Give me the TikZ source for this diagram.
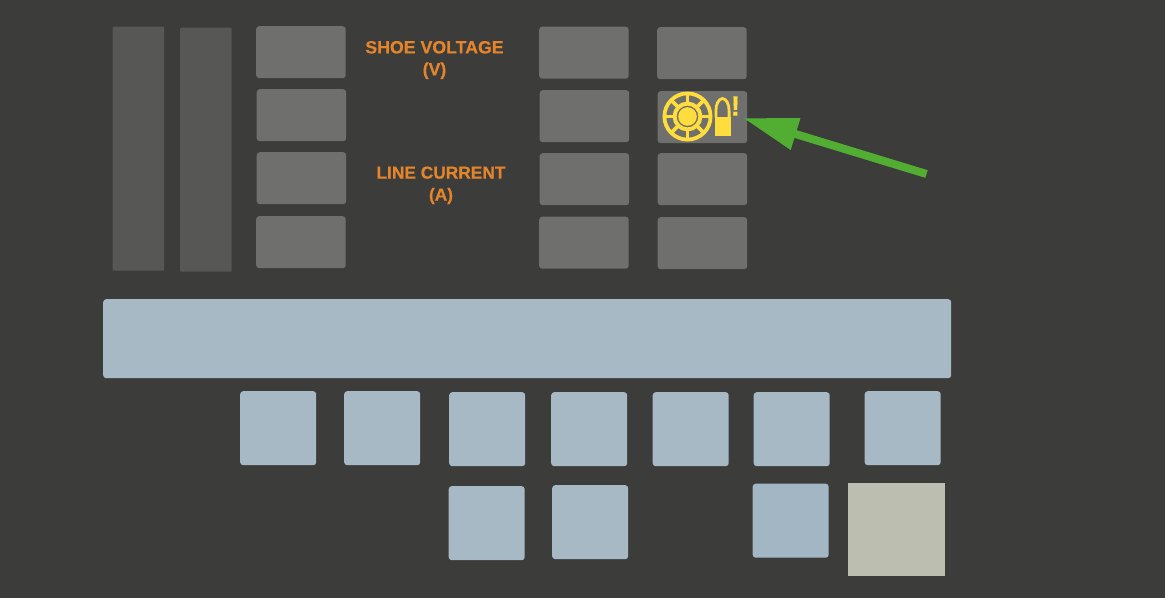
\documentclass[tikz,border=0pt]{standalone}
\usepackage{fontspec}
\setmainfont[BoldFeatures={FakeBold=0.35}]{Liberation Sans}
\usetikzlibrary{arrows.meta}
\definecolor{bgc}{HTML}{3C3C3B}
\definecolor{gbox}{HTML}{6F6F6D}
\definecolor{tallc}{HTML}{575756}
\definecolor{bluec}{HTML}{A6B9C5}
\definecolor{bluedk}{HTML}{A3B6C4}
\definecolor{beigec}{HTML}{BCBFAF}
\definecolor{orangec}{HTML}{E5852B}
\definecolor{yel}{HTML}{FFDD3C}
\definecolor{greenc}{HTML}{52AE32}
\tikzset{
  panel/.style={draw=none,inner sep=0pt,rounded corners=3bp,anchor=north west},
  tallbox/.style={panel,fill=tallc,minimum width=51.5bp,minimum height=244bp,rounded corners=1bp},
  graybox/.style={panel,fill=gbox,minimum width=89.5bp,minimum height=52bp},
  bluesq/.style={panel,fill=bluec,minimum width=76bp,minimum height=74bp},
  lab/.style={text=orangec,font=\bfseries\fontsize{17.8}{22}\selectfont,align=center,inner sep=0pt},
  wheel/.style={draw=yel,line width=3.8bp},
  pointer/.style={draw=greenc,line width=8bp,-{Triangle[length=55bp,width=31bp,fill=greenc]}}
}
\begin{document}
\begin{tikzpicture}[x=1bp,y=-1bp]
\useasboundingbox[fill=bgc] (0,0) rectangle (1165,598);
\node[tallbox] (t1) at (112.5,26.5) {};
\node[tallbox] (t2) at (180,27.5) {};
\node[graybox] (a1) at (256,26) {};
\node[graybox] (a2) at (256.5,89) {};
\node[graybox] (a3) at (256.5,152) {};
\node[graybox] (a4) at (256,216) {};
\node[graybox] (b1) at (539,26.5) {};
\node[graybox] (b2) at (539.5,90) {};
\node[graybox] (b3) at (539.5,153) {};
\node[graybox] (b4) at (539,216.5) {};
\node[graybox] (c1) at (657,27) {};
\node[graybox] (c2) at (657.5,91) {};
\node[graybox] (c3) at (657.5,153) {};
\node[graybox] (c4) at (657.5,217) {};
\node[lab] (v) at (434.5,60) {SHOE VOLTAGE\\(V)};
\node[lab,font=\bfseries\fontsize{17.4}{22}\selectfont] (i) at (441,185.3) {LINE CURRENT\\(A)};
\node[panel,fill=bluec,minimum width=848bp,minimum height=79bp] (bar) at (103,299) {};
\node[bluesq] (s1) at (240,391) {};
\node[bluesq] (s2) at (344,391) {};
\node[bluesq] (s3) at (449,392) {};
\node[bluesq] (s4) at (551,392) {};
\node[bluesq] (s5) at (652.5,392) {};
\node[bluesq] (s6) at (753.5,392) {};
\node[bluesq] (s7) at (864.5,391) {};
\node[bluesq] (s8) at (448.5,486) {};
\node[bluesq] (s9) at (552,485) {};
\node[bluesq,fill=bluedk] (s10) at (752.5,483.5) {};
\node[panel,fill=beigec,rounded corners=0pt,minimum width=97bp,minimum height=92.5bp] (s11) at (848,483) {};
% wheel icon
\coordinate (wc) at (687.5,116.5);
\draw[wheel] (wc) circle (23.1bp);
\draw[wheel,line width=4bp] (wc) circle (12.9bp);
\fill[yel] (wc) circle (9.3bp);
\foreach \ang in {0,45,...,315}
  \draw[wheel] ([shift={(\ang:14bp)}]wc) -- ([shift={(\ang:23bp)}]wc);
% shell icon
\fill[yel] (714.5,117) rectangle (730.5,136.5);
\draw[yel,line width=2.8bp] (715.9,117.5) -- (715.9,111) .. controls (715.9,104) and (718.5,99) .. (722.5,98.5) .. controls (726.5,99) and (729.1,104) .. (729.1,111) -- (729.1,117.5);
\node[text=yel,font=\bfseries\fontsize{28}{28}\selectfont,inner sep=0pt] (bang) at (735.5,106) {!};
% arrow
\coordinate (tail) at (926.5,174);
\coordinate (tip) at (743,118);
\draw[pointer] (tail) -- (tip);
\end{tikzpicture}
\end{document}
